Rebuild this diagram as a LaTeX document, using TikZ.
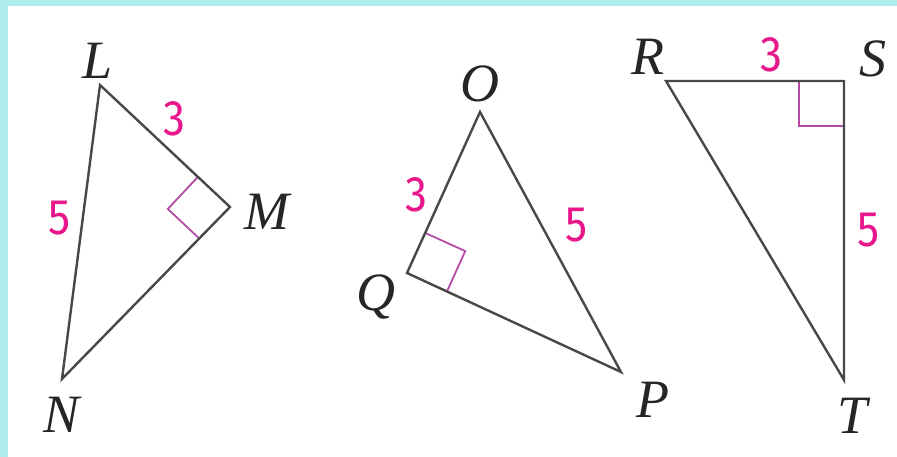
\documentclass[tikz,border=0pt]{standalone}
\usepackage{fontspec}
\setmainfont{Liberation Serif}
\newfontfamily\digitfont{Fira Sans}
\usetikzlibrary{calc}
\definecolor{framecyan}{HTML}{AEECEC}
\definecolor{edgegray}{HTML}{484848}
\definecolor{numpink}{HTML}{E8188C}
\definecolor{markpurple}{HTML}{B54AA8}
\begin{document}
\begin{tikzpicture}[x=1pt,y=-1pt,
  edge/.style={draw=edgegray,line width=2.4pt,line join=miter},
  rmark/.style={draw=markpurple,line width=1.8pt},
  vlabel/.style={inner sep=0pt,anchor=base,font=\fontsize{54}{60}\selectfont\itshape,text=black!85},
  nlabel/.style={inner sep=0pt,anchor=base,font=\fontsize{50}{58}\selectfont\digitfont,text=numpink,xscale=0.88}]
\fill[framecyan] (0,0) rectangle (897,457);
\fill[white] (8,6) rectangle (897,457);
\useasboundingbox (0,0) rectangle (897,457);
% vertices
\coordinate (L) at (100,85);
\coordinate (M) at (230,207);
\coordinate (N) at (62,379);
\coordinate (O) at (480,112);
\coordinate (Q) at (407,273);
\coordinate (P) at (621,372);
\coordinate (R) at (666,81);
\coordinate (S) at (844,81);
\coordinate (T) at (844,380);
% right angle marks
\draw[rmark] ($(M)!44pt!(L)$) -- ($(M)!44pt!(L)!44pt!90:(L)$) -- ($(M)!44pt!(N)$);
\draw[rmark] ($(Q)!44pt!(O)$) -- ($(Q)!44pt!(O)!44pt!-90:(O)$) -- ($(Q)!44pt!(P)$);
\draw[rmark] ($(S)!45pt!(R)$) -- ($(S)!45pt!(R)!45pt!90:(R)$) -- ($(S)!45pt!(T)$);
% triangles
\draw[edge] (L) -- (M) -- (N) -- cycle;
\draw[edge] (O) -- (P) -- (Q) -- cycle;
\draw[edge] (R) -- (S) -- (T) -- cycle;
% vertex labels
\node[vlabel] (lL) at (98,79) {L};
\node[vlabel] (lM) at (267,230) {M};
\node[vlabel] (lN) at (62,432) {N};
\node[vlabel] (lO) at (480,102) {O};
\node[vlabel] (lQ) at (376,310) {Q};
\node[vlabel] (lP) at (653,417) {P};
\node[vlabel] (lR) at (648,75) {R};
\node[vlabel] (lS) at (873,77) {S};
\node[vlabel] (lT) at (853,433) {T};
% length labels
\node[nlabel] (n1) at (174,136) {3};
\node[nlabel] (n2) at (60,235) {5};
\node[nlabel] (n3) at (416,212) {3};
\node[nlabel] (n4) at (577,242) {5};
\node[nlabel] (n5) at (771,72) {3};
\node[nlabel] (n6) at (869,247) {5};
\end{tikzpicture}
\end{document}
